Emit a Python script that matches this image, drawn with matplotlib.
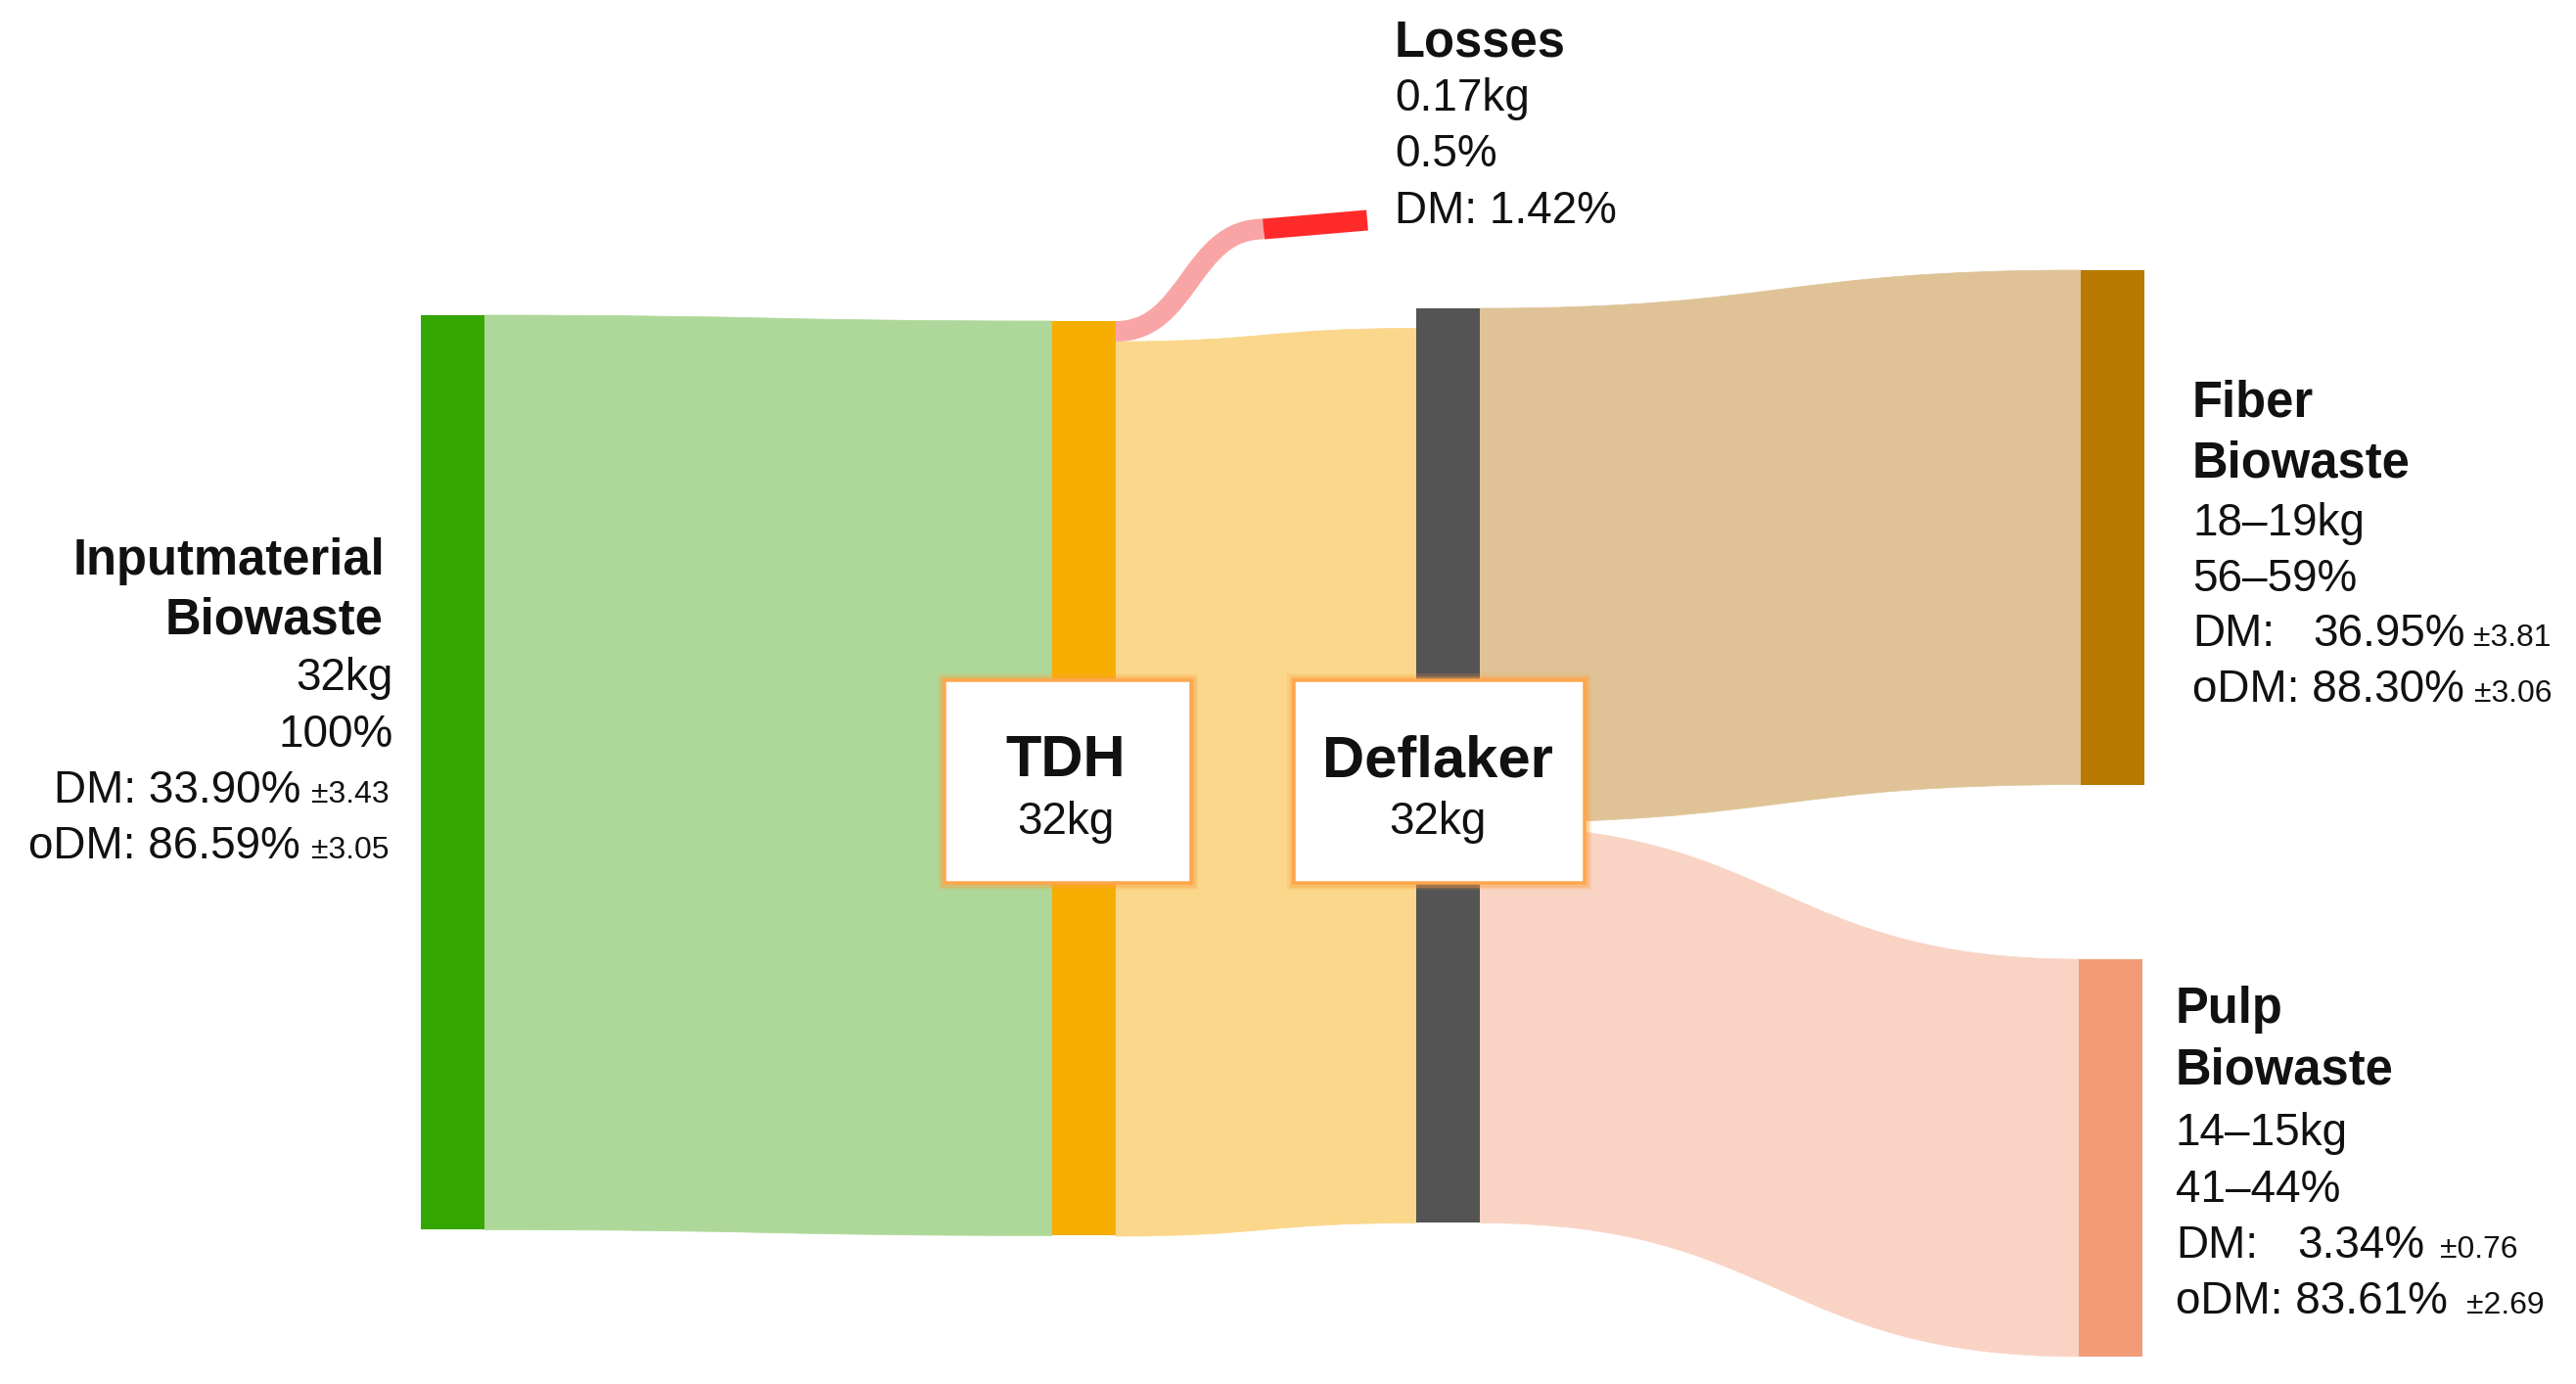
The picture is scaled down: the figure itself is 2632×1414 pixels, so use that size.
import matplotlib
matplotlib.use("Agg")
import matplotlib.pyplot as plt
from matplotlib.path import Path
from matplotlib.patches import PathPatch, Rectangle

plt.rcParams['font.family'] = ['Liberation Sans', 'DejaVu Sans']

# ---------------- data ----------------
node_names = ["Input", "TDH", "Deflaker", "Fiber", "Pulp"]
node_kg = [32.0, 32.0, 32.0, 18.0, 13.9]
node_colors = ["#35A702", "#F6AE00", "#545454", "#B87A00", "#F19B77"]

flow_src = ["Input", "TDH", "TDH", "Deflaker", "Deflaker"]
flow_dst = ["TDH", "Losses", "Deflaker", "Fiber", "Pulp"]
flow_kg = [32.0, 0.17, 31.3, 18.0, 13.9]
flow_colors = ["#AED899", "#F9A5A5", "#FAD78B", "#DFC397", "#F9D3C3"]
loss_color = "#FF2B2B"

input_title = ["Inputmaterial", "Biowaste"]
input_lines = ["32kg", "100%"]
input_dm = ("33.90%", "±3.43")
input_odm = ("86.59%", "±3.05")

fiber_title = ["Fiber", "Biowaste"]
fiber_lines = ["18–19kg", "56–59%"]
fiber_dm = ("36.95%", "±3.81")
fiber_odm = ("88.30%", "±3.06")

pulp_title = ["Pulp", "Biowaste"]
pulp_lines = ["14–15kg", "41–44%"]
pulp_dm = ("3.34%", "±0.76")
pulp_odm = ("83.61%", "±2.69")

loss_title = "Losses"
loss_lines = ["0.17kg", "0.5%", "DM: 1.42%"]

box_labels = [("TDH", "32kg"), ("Deflaker", "32kg")]

# ---------------- layout (pixels) ----------------
W, H = 2632, 1414
PX_PER_KG = 29.2
MIN_VIS_KG = 0.72          # minimum drawn width for tiny flows
BAR_W = 65
node_x = {"Input": 430, "TDH": 1075, "Deflaker": 1447, "Fiber": 2126, "Pulp": 2124}
node_top = {"Input": 322, "TDH": 328, "Deflaker": 315, "Fiber": 276, "Pulp": 980}

fig = plt.figure(figsize=(W / 100, H / 100), dpi=100)
ax = fig.add_axes([0, 0, 1, 1])
ax.set_xlim(0, W)
ax.set_ylim(H, 0)
ax.axis('off')


def band(x0, t0, b0, x1, t1, b1, color, z=1):
    xm = (x0 + x1) / 2
    verts = [(x0, t0), (xm, t0), (xm, t1), (x1, t1),
             (x1, b1), (xm, b1), (xm, b0), (x0, b0), (x0, t0)]
    codes = [Path.MOVETO, Path.CURVE4, Path.CURVE4, Path.CURVE4,
             Path.LINETO, Path.CURVE4, Path.CURVE4, Path.CURVE4, Path.CLOSEPOLY]
    ax.add_patch(PathPatch(Path(verts, codes), facecolor=color, edgecolor=color,
                           lw=0.5, zorder=z))


# nodes
heights = {n: k * PX_PER_KG for n, k in zip(node_names, node_kg)}
for n, c in zip(node_names, node_colors):
    ax.add_patch(Rectangle((node_x[n], node_top[n]), BAR_W, heights[n],
                           facecolor=c, edgecolor='none', zorder=3))

# flows
out_off = {n: 0.0 for n in node_names}
for s, d, k, c in zip(flow_src, flow_dst, flow_kg, flow_colors):
    w = max(k, MIN_VIS_KG) * PX_PER_KG
    x0 = node_x[s] + BAR_W
    if s == "Deflaker" and d == "Pulp":
        t0 = node_top[s] + heights[s] - w      # stacked from bottom
    else:
        t0 = node_top[s] + out_off[s]
    out_off[s] += w
    if d == "Losses":
        # thick curved stroke up to the loss marker
        cy0 = t0 + w / 2
        xe, cye = 1291, 234
        xm = (x0 + xe) / 2
        p = Path([(x0, cy0), (xm, cy0), (xm, cye), (xe, cye)],
                 [Path.MOVETO, Path.CURVE4, Path.CURVE4, Path.CURVE4])
        ax.add_patch(PathPatch(p, facecolor='none', edgecolor=c,
                               lw=w * 0.72, capstyle='butt', zorder=2))
        ax.plot([xe, 1397], [cye, cye - 9], color=loss_color, lw=w * 0.72,
                solid_capstyle='butt', zorder=2)
        continue
    x1 = node_x[d]
    if d == "Deflaker":
        t1 = node_top[d] + heights[d] - w
    else:
        t1 = node_top[d]
    band(x0, t0, t0 + w, x1, t1, t1 + w, c)

# ---------------- text ----------------
FS_T, FS_N, FS_S, FS_B = 36.5, 33, 23, 43
TXT = "#111111"


def txt(x, y, s, fs, bold=False, ha='left'):
    ax.text(x, y, s, fontsize=fs, fontweight='bold' if bold else 'normal',
            ha=ha, va='baseline', color=TXT, zorder=10)


# Input label (right aligned)
txt(393, 587, input_title[0], FS_T, True, 'right')
txt(392, 648, input_title[1], FS_T, True, 'right')
txt(402, 705, input_lines[0], FS_N, ha='right')
txt(402, 763, input_lines[1], FS_N, ha='right')
txt(307, 820, "DM: " + input_dm[0], FS_N, ha='right')
txt(318, 820, input_dm[1], FS_S)
txt(307, 877, "oDM: " + input_odm[0], FS_N, ha='right')
txt(318, 877, input_odm[1], FS_S)

# Fiber label
fx = 2240
txt(fx, 425, fiber_title[0], FS_T, True)
txt(fx, 488, fiber_title[1], FS_T, True)
txt(fx, 547, fiber_lines[0], FS_N)
txt(fx, 604, fiber_lines[1], FS_N)
txt(fx, 660, "DM:", FS_N)
txt(2363, 660, fiber_dm[0], FS_N)
txt(2527, 660, fiber_dm[1], FS_S)
txt(fx, 717, "oDM: " + fiber_odm[0], FS_N)
txt(2528, 717, fiber_odm[1], FS_S)

# Pulp label
px = 2223
txt(px, 1045, pulp_title[0], FS_T, True)
txt(px, 1108, pulp_title[1], FS_T, True)
txt(px, 1170, pulp_lines[0], FS_N)
txt(px, 1228, pulp_lines[1], FS_N)
txt(px, 1285, "DM:", FS_N)
txt(2347, 1285, pulp_dm[0], FS_N)
txt(2493, 1285, pulp_dm[1], FS_S)
txt(px, 1342, "oDM: " + pulp_odm[0], FS_N)
txt(2520, 1342, pulp_odm[1], FS_S)

# Losses label
lx = 1425
txt(lx, 57, loss_title, FS_T, True)
for i, s in enumerate(loss_lines):
    txt(lx, 113 + i * 57.5, s, FS_N)

# Boxes over TDH and Deflaker
boxes = [(965, 1217), (1322, 1619)]
for (xa, xb), (t1, t2) in zip(boxes, box_labels):
    for lw, a in [(14, 0.18), (9, 0.35)]:
        ax.add_patch(Rectangle((xa, 695), xb - xa, 207, facecolor='none',
                               edgecolor='#FFA040', lw=lw * 0.72, alpha=a, zorder=6))
    ax.add_patch(Rectangle((xa, 695), xb - xa, 207, facecolor='white',
                           edgecolor='#FFA64D', lw=3.5 * 0.72, zorder=7))
    cx = (xa + xb) / 2 - 2
    txt(cx, 793, t1, FS_B, True, 'center')
    txt(cx, 852, t2, FS_N, ha='center')

fig.savefig("out.png", dpi=100, facecolor='white')
